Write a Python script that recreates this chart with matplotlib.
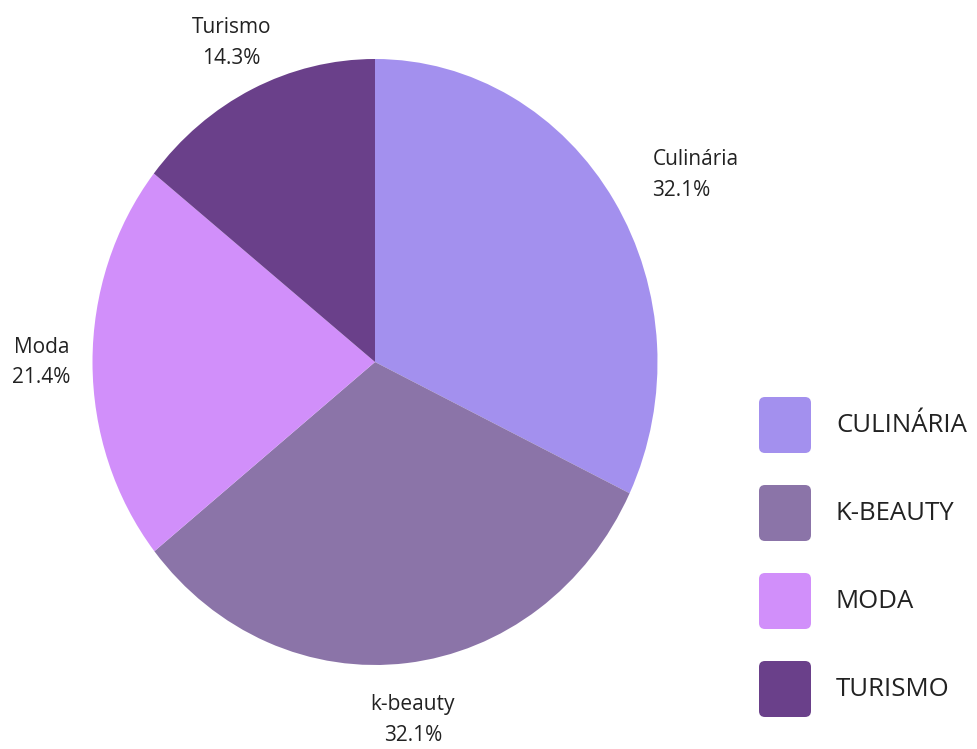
import numpy as np
import matplotlib
matplotlib.use("Agg")
import matplotlib.pyplot as plt
from matplotlib.patches import FancyBboxPatch

# data
categories = ["Culinária", "k-beauty", "Moda", "Turismo"]
legend_names = ["CULINÁRIA", "K-BEAUTY", "MODA", "TURISMO"]
shares = [32.1, 32.1, 21.4, 14.3]
colors = ["#A390EE", "#8B74A8", "#D18FFA", "#6A408A"]

plt.rcParams['font.family'] = ['Open Sans', 'DejaVu Sans']
TEXT = "#222222"

fig = plt.figure(figsize=(9.78, 7.49), dpi=100)
ax = fig.add_axes([0, 0, 1, 1])

wedges, _ = ax.pie(shares, colors=colors, startangle=90, counterclock=False,
                   radius=1, wedgeprops=dict(linewidth=0))
# the reference pie is slightly stretched vertically
ax.set_aspect('auto')
ax.set_xlim(-375 / 282.5, 603 / 282.5)
ax.set_ylim(-387 / 303, 362 / 303)
ax.axis('off')

# label placement: distance from centre and alignment for each slice
label_dist = [1.16, 1.19, 1.18, 1.17]
label_ha = ['left', 'center', 'center', 'center']
for w, name, val, d, ha in zip(wedges, categories, shares, label_dist, label_ha):
    ang = np.deg2rad((w.theta1 + w.theta2) / 2)
    ax.text(d * np.cos(ang), d * np.sin(ang), f"{name}\n{val:.1f}%",
            ha=ha, va='center', fontsize=15, color=TEXT, linespacing=1.6)

# legend drawn on an overlay in pixel coordinates
lax = fig.add_axes([0, 0, 1, 1], zorder=3)
lax.set_xlim(0, 978)
lax.set_ylim(749, 0)
lax.axis('off')
for i, (name, c) in enumerate(zip(legend_names, colors)):
    top = 397 + i * 88
    box = FancyBboxPatch((759, top), 52, 56,
                         boxstyle="round,pad=0,rounding_size=6",
                         facecolor=c, edgecolor='none')
    lax.add_patch(box)
    lax.text(836, top + 28, name, ha='left', va='center',
             fontsize=18.5, color=TEXT)

fig.savefig("out.png", dpi=100, facecolor='white')
